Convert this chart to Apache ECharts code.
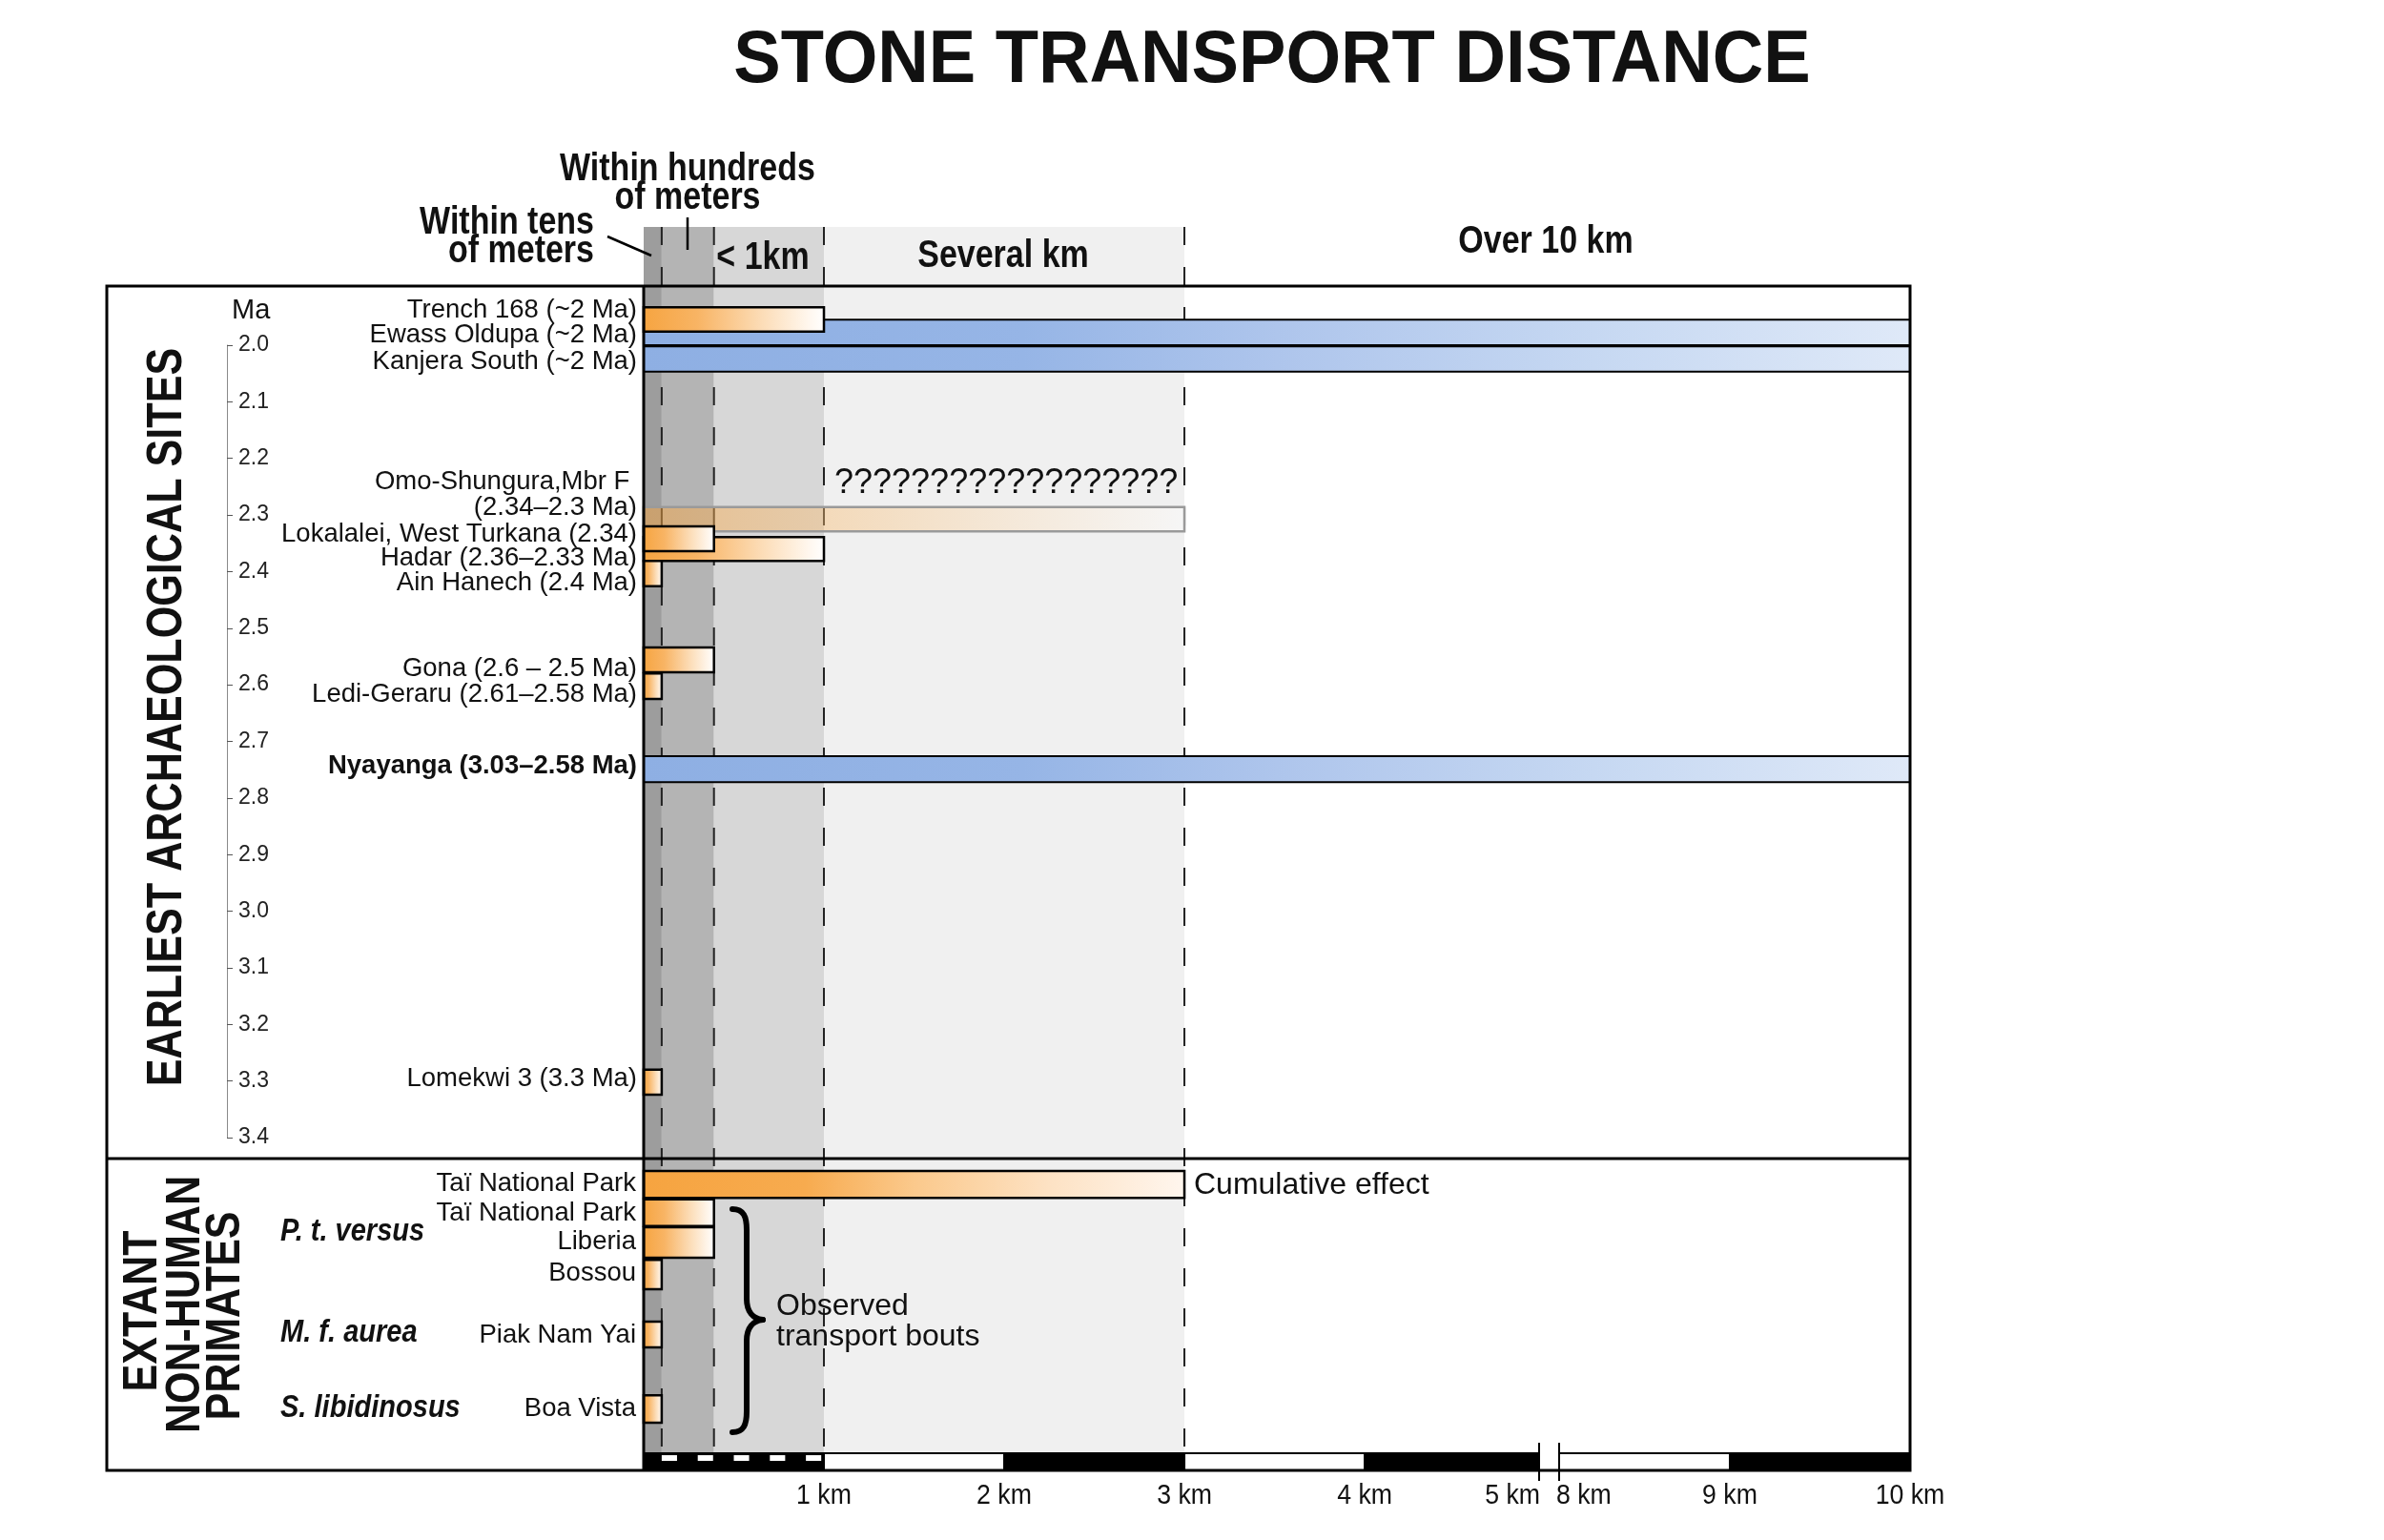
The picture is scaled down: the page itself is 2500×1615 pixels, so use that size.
<!DOCTYPE html>
<html lang="en">
<head>
<meta charset="UTF-8">
<title>Stone transport distance</title>
<script src="https://cdn.jsdelivr.net/npm/echarts@6.0.0/dist/echarts.min.js"></script>
<style>
	html,body{margin:0;padding:0;background:#fff;}
	#chart{width:2500px;height:1615px;}
</style>
</head>
<body>
<div id="chart"></div>
<script>
	// ---- values ----
	// distance zones (km)
	var bandStartKm = [0, 0.1, 0.39, 1];
	var bandEndKm   = [0.1, 0.39, 1, 3];
	var dashKm      = [0.1, 0.39, 1, 3];

	// earliest archaeological sites (drawn in this order, later ones on top)
	var siteNames = [
		'Ewass Oldupa (~2 Ma)', 'Kanjera South (~2 Ma)', 'Trench 168 (~2 Ma)',
		'Omo-Shungura,Mbr F \n(2.34\u20132.3 Ma)', 'Hadar (2.36\u20132.33 Ma)', 'Lokalalei, West Turkana (2.34)',
		'Ain Hanech (2.4 Ma)', 'Gona (2.6 \u2013 2.5 Ma)', 'Ledi-Geraru (2.61\u20132.58 Ma)',
		'Nyayanga (3.03\u20132.58 Ma)', 'Lomekwi 3 (3.3 Ma)'
	];
	var siteBarTopMa    = [1.955, 2.002, 1.933, 2.286, 2.339, 2.320, 2.381, 2.534, 2.580, 2.726, 3.280];
	var siteBarBottomMa = [2.000, 2.047, 1.976, 2.329, 2.381, 2.364, 2.426, 2.578, 2.625, 2.772, 3.324];
	var siteLabelMa     = [1.983, 2.029, 1.938, 2.264, 2.376, 2.334, 2.421, 2.571, 2.618, 2.743, 3.297];
	var siteDistanceKm  = [10, 10, 1, 3, 1, 0.39, 0.1, 0.39, 0.1, 10, 0.1];
	var siteEvidence    = ['far', 'far', 'near', 'uncertain', 'near', 'near', 'near', 'near', 'near', 'far', 'near'];

	// extant non-human primates (rows counted from the divider)
	var primateNames = ['Ta\u00ef National Park', 'Ta\u00ef National Park', 'Liberia', 'Bossou', 'Piak Nam Yai', 'Boa Vista'];
	var primateRowTop    = [0.42, 1.38, 2.33, 3.43, 5.53, 8.02];
	var primateRowBottom = [1.33, 2.29, 3.36, 4.43, 6.40, 8.95];
	var primateLabelRow  = [0.87, 1.87, 2.84, 3.88, 5.98, 8.47];
	var primateDistanceKm = [3, 0.39, 0.39, 0.1, 0.1, 0.1];
	var primateEvidence  = ['cumulative', 'near', 'near', 'near', 'near', 'near'];
	var speciesNames = ['P. t. versus', 'M. f. aurea', 'S. libidinosus'];
	var speciesRow   = [2.49, 5.91, 8.47];

	// scale bar
	var kmTicks = [1, 2, 3, 4, 5, 8, 9, 10];
	var scaleWhiteFromKm = [1, 3, 8];
	var scaleWhiteToKm   = [2, 4, 9];
	var scaleDashKm = [0.1, 0.3, 0.5, 0.7, 0.9];

	// the distance axis runs 0-5 km and 8-10 km on one scale with a cut between
	var CUT_FROM_KM = 5, CUT_SHIFT = 2.974;
	function kmAxis(km) { return km <= CUT_FROM_KM ? km : km - CUT_SHIFT; }
	var X_MAX = kmAxis(10);
	var CUT_U = [4.968, 5.079];
	var ROW_MAX = 10.6, SCALE_TOP_ROW = 9.955;

	var FF = '"Liberation Sans", Arial, Helvetica, sans-serif';
	var bandColors = ['#9d9d9d', '#b4b4b4', '#d7d7d7', '#f0f0f0'];

	function fillFor(kind) {
		if (kind === 'far') {
			return new echarts.graphic.LinearGradient(0, 0, 1, 0, [
				{offset: 0, color: '#8eafe3'}, {offset: 0.3, color: '#96b5e6'},
				{offset: 0.5, color: '#aec5ec'}, {offset: 0.75, color: '#c6d8f2'},
				{offset: 1, color: '#dfe9f8'}
			]);
		}
		if (kind === 'uncertain') {
			return new echarts.graphic.LinearGradient(0, 0, 1, 0, [
				{offset: 0, color: 'rgba(246,164,64,0.5)'}, {offset: 0.45, color: 'rgba(249,196,130,0.4)'},
				{offset: 1, color: 'rgba(255,255,255,0.4)'}
			]);
		}
		if (kind === 'cumulative') {
			return new echarts.graphic.LinearGradient(0, 0, 1, 0, [
				{offset: 0, color: '#f6a440'}, {offset: 0.3, color: '#f7ab4f'},
				{offset: 0.5, color: '#fbc98c'}, {offset: 0.75, color: '#fde2c4'},
				{offset: 1, color: '#fff6ee'}
			]);
		}
		return new echarts.graphic.LinearGradient(0, 0, 1, 0, [
			{offset: 0, color: '#f6a440'}, {offset: 0.3, color: '#f8b464'},
			{offset: 0.65, color: '#fcdcb6'}, {offset: 0.92, color: '#fff8f0'},
			{offset: 1, color: '#ffffff'}
		]);
	}

	function barItem(kinds) {
		return function (params, api) {
			var p0 = api.coord([api.value(0), api.value(2)]);
			var p1 = api.coord([api.value(1), api.value(3)]);
			var kind = kinds[params.dataIndex];
			return {
				type: 'rect',
				shape: {x: p0[0], y: p0[1], width: p1[0] - p0[0], height: p1[1] - p0[1]},
				style: {
					fill: fillFor(kind),
					stroke: kind === 'uncertain' ? '#9a9a9a' : '#000',
					lineWidth: kind === 'far' ? 2 : 2.5
				}
			};
		};
	}

	function txt(x, y, text, font, align, extra) {
		var el = {
			type: 'text', x: x, y: y, z: 100,
			style: {text: text, font: font, fill: '#111', textAlign: align, align: align,
				textVerticalAlign: 'middle', verticalAlign: 'middle'}
		};
		for (var k in (extra || {})) el[k] = extra[k];
		return el;
	}
	function seg(x1, y1, x2, y2, w) {
		return {type: 'line', z: 100, shape: {x1: x1, y1: y1, x2: x2, y2: y2}, style: {stroke: '#000', lineWidth: w}};
	}
	function curve(x1, y1, c1x, c1y, c2x, c2y, x2, y2) {
		return {type: 'bezierCurve', z: 100,
			shape: {x1: x1, y1: y1, cpx1: c1x, cpy1: c1y, cpx2: c2x, cpy2: c2y, x2: x2, y2: y2},
			style: {stroke: '#000', lineWidth: 6, fill: null, lineCap: 'round'}};
	}

	var myChart = echarts.init(document.getElementById('chart'));

	var graphics = [
		txt(1334, 64, 'STONE TRANSPORT DISTANCE', 'bold 78px ' + FF, 'center', {scaleX: 0.95}),
		txt(721, 178, 'Within hundreds', 'bold 40px ' + FF, 'center', {scaleX: 0.85}),
		txt(721, 208, 'of meters', 'bold 40px ' + FF, 'center', {scaleX: 0.85}),
		txt(623, 234, 'Within tens', 'bold 40px ' + FF, 'right', {scaleX: 0.85}),
		txt(623, 264, 'of meters', 'bold 40px ' + FF, 'right', {scaleX: 0.85}),
		txt(800, 271, '< 1km', 'bold 40px ' + FF, 'center', {scaleX: 0.85}),
		txt(1052, 269, 'Several km', 'bold 40px ' + FF, 'center', {scaleX: 0.85}),
		txt(1621, 254, 'Over 10 km', 'bold 40px ' + FF, 'center', {scaleX: 0.85}),
		seg(637, 248, 683, 268, 2.5),
		seg(721, 228, 721, 262, 2.5),
		txt(176, 752, 'EARLIEST ARCHAEOLOGICAL SITES', 'bold 52px ' + FF, 'center', {rotation: Math.PI / 2, scaleX: 0.83}),
		txt(150, 1375, 'EXTANT', 'bold 50px ' + FF, 'center', {rotation: Math.PI / 2, scaleX: 0.86}),
		txt(195, 1368, 'NON-HUMAN', 'bold 50px ' + FF, 'center', {rotation: Math.PI / 2, scaleX: 0.86}),
		txt(237, 1380, 'PRIMATES', 'bold 50px ' + FF, 'center', {rotation: Math.PI / 2, scaleX: 0.86}),
		txt(243, 326, 'Ma', '29px ' + FF, 'left'),
		txt(875, 507, '??????????????????', '36px ' + FF, 'left'),
		txt(1252, 1243, 'Cumulative effect', '32px ' + FF, 'left'),
		txt(814, 1370, 'Observed', '32px ' + FF, 'left'),
		txt(814, 1402, 'transport bouts', '32px ' + FF, 'left'),
		curve(768, 1268, 780, 1268, 783, 1276, 783, 1290),
		{type: 'line', z: 100, shape: {x1: 783, y1: 1290, x2: 783, y2: 1362}, style: {stroke: '#000', lineWidth: 6}},
		curve(783, 1362, 783, 1376, 790, 1383, 800, 1384),
		curve(800, 1384, 790, 1385, 783, 1392, 783, 1406),
		{type: 'line', z: 100, shape: {x1: 783, y1: 1406, x2: 783, y2: 1480}, style: {stroke: '#000', lineWidth: 6}},
		curve(783, 1480, 783, 1494, 780, 1502, 768, 1502),
		{type: 'rect', z: 100, shape: {x: 112, y: 300, width: 1891, height: 1242}, style: {fill: null, stroke: '#000', lineWidth: 3}},
		seg(112, 1215, 2003, 1215, 3),
		seg(675, 300, 675, 1543, 3)
	];

	var option = {
		backgroundColor: '#fff',
		animation: false,
		grid: [
			{left: 675, top: 238, width: 1328, height: 1285},
			{left: 675, top: 300, width: 1328, height: 915},
			{left: 675, top: 1215, width: 1328, height: 328},
			{left: 238, top: 362, width: 10, height: 831}
		],
		xAxis: [
			{gridIndex: 0, type: 'value', min: 0, max: X_MAX, show: false},
			{gridIndex: 1, type: 'value', min: 0, max: X_MAX, show: false},
			{gridIndex: 2, type: 'value', min: 0, max: X_MAX, show: false},
			{gridIndex: 3, type: 'value', min: 0, max: 1, show: false}
		],
		yAxis: [
			{gridIndex: 0, type: 'value', min: 0, max: 1, show: false},
			{gridIndex: 1, type: 'value', min: 1.8956, max: 3.437, inverse: true, show: false},
			{gridIndex: 2, type: 'value', min: 0, max: ROW_MAX, inverse: true, show: false},
			{
				gridIndex: 3, type: 'value', min: 2.0, max: 3.4, interval: 0.1, inverse: true, position: 'left',
				axisLine: {show: true, lineStyle: {color: '#8a8a8a', width: 1}},
				axisTick: {show: true, inside: true, length: 6, lineStyle: {color: '#555'}},
				axisLabel: {inside: true, margin: 12, fontSize: 23, fontFamily: FF, color: '#222',
					showMinLabel: true, showMaxLabel: true,
					formatter: function (v) { return v.toFixed(1); }},
				splitLine: {show: false}
			}
		],
		series: [
			{
				// distance zones
				type: 'custom', xAxisIndex: 0, yAxisIndex: 0, z: 1, silent: true, clip: false,
				data: bandStartKm.map(function (s, i) { return [kmAxis(s), kmAxis(bandEndKm[i])]; }),
				renderItem: function (params, api) {
					var p0 = api.coord([api.value(0), 1]);
					var p1 = api.coord([api.value(1), 0]);
					return {type: 'rect', shape: {x: p0[0], y: p0[1], width: p1[0] - p0[0], height: p1[1] - p0[1]},
						style: {fill: bandColors[params.dataIndex]}};
				}
			},
			{
				// zone boundaries
				type: 'custom', xAxisIndex: 0, yAxisIndex: 0, z: 2, silent: true, clip: false,
				data: dashKm.map(function (k) { return [kmAxis(k)]; }),
				renderItem: function (params, api) {
					var p0 = api.coord([api.value(0), 1]);
					var p1 = api.coord([api.value(0), 0]);
					return {type: 'line', shape: {x1: p0[0], y1: p0[1], x2: p1[0], y2: p1[1]},
						style: {stroke: '#222', lineWidth: 2, lineDash: [19, 23]}};
				}
			},
			{
				type: 'custom', xAxisIndex: 1, yAxisIndex: 1, z: 3, silent: true, clip: false,
				data: siteNames.map(function (n, i) { return [0, kmAxis(siteDistanceKm[i]), siteBarTopMa[i], siteBarBottomMa[i]]; }),
				renderItem: barItem(siteEvidence)
			},
			{
				type: 'custom', xAxisIndex: 1, yAxisIndex: 1, z: 4, silent: true, clip: false,
				data: siteLabelMa.map(function (m) { return [0, m]; }),
				renderItem: function (params, api) {
					var p = api.coord([0, api.value(1)]);
					var name = siteNames[params.dataIndex];
					var bold = name.indexOf('Nyayanga') === 0;
					return {type: 'text', x: p[0] - 7, y: p[1],
						style: {text: name, font: (bold ? 'bold ' : '') + '27.5px ' + FF, fill: '#111', lineHeight: 27,
							textAlign: 'right', align: 'right', textVerticalAlign: 'middle', verticalAlign: 'middle'}};
				}
			},
			{
				type: 'custom', xAxisIndex: 2, yAxisIndex: 2, z: 3, silent: true, clip: false,
				data: primateNames.map(function (n, i) { return [0, kmAxis(primateDistanceKm[i]), primateRowTop[i], primateRowBottom[i]]; }),
				renderItem: barItem(primateEvidence)
			},
			{
				type: 'custom', xAxisIndex: 2, yAxisIndex: 2, z: 4, silent: true, clip: false,
				data: primateLabelRow.map(function (r) { return [0, r]; }),
				renderItem: function (params, api) {
					var p = api.coord([0, api.value(1)]);
					return {type: 'text', x: p[0] - 8, y: p[1],
						style: {text: primateNames[params.dataIndex], font: '27.5px ' + FF, fill: '#111',
							textAlign: 'right', align: 'right', textVerticalAlign: 'middle', verticalAlign: 'middle'}};
				}
			},
			{
				type: 'custom', xAxisIndex: 2, yAxisIndex: 2, z: 4, silent: true, clip: false,
				data: speciesRow.map(function (r) { return [0, r]; }),
				renderItem: function (params, api) {
					var p = api.coord([0, api.value(1)]);
					return {type: 'text', x: 294, y: p[1], scaleX: 0.88,
						style: {text: speciesNames[params.dataIndex], font: 'italic bold 33px ' + FF, fill: '#111',
							textAlign: 'left', align: 'left', textVerticalAlign: 'middle', verticalAlign: 'middle'}};
				}
			},
			{
				// scale bar
				type: 'custom', xAxisIndex: 2, yAxisIndex: 2, z: 5, silent: true, clip: false,
				data: [[0]],
				renderItem: function (params, api) {
					var top = api.coord([0, SCALE_TOP_ROW])[1];
					var bottom = api.coord([0, ROW_MAX])[1];
					var x0 = api.coord([0, 0])[0], x1 = api.coord([kmAxis(10), 0])[0];
					var kids = [{type: 'rect', shape: {x: x0, y: top, width: x1 - x0, height: bottom - top}, style: {fill: '#000'}}];
					scaleWhiteFromKm.forEach(function (k, i) {
						var a = api.coord([kmAxis(k), 0])[0], b = api.coord([kmAxis(scaleWhiteToKm[i]), 0])[0];
						kids.push({type: 'rect', shape: {x: a + 1, y: top + 2, width: b - a - 2, height: bottom - top - 4}, style: {fill: '#fff'}});
					});
					scaleDashKm.forEach(function (k) {
						var a = api.coord([kmAxis(k), 0])[0], b = api.coord([kmAxis(k + 0.085), 0])[0];
						kids.push({type: 'rect', shape: {x: a, y: top + 3, width: b - a, height: 6}, style: {fill: '#fff'}});
					});
					var c0 = api.coord([CUT_U[0], 0])[0], c1 = api.coord([CUT_U[1], 0])[0];
					kids.push({type: 'rect', shape: {x: c0, y: top - 10, width: c1 - c0, height: bottom - top + 20}, style: {fill: '#fff'}});
					kids.push({type: 'line', shape: {x1: c0, y1: top - 10, x2: c0, y2: bottom + 10}, style: {stroke: '#000', lineWidth: 2}});
					kids.push({type: 'line', shape: {x1: c1, y1: top - 10, x2: c1, y2: bottom + 10}, style: {stroke: '#000', lineWidth: 2}});
					return {type: 'group', children: kids};
				}
			},
			{
				// km labels
				type: 'custom', xAxisIndex: 2, yAxisIndex: 2, z: 5, silent: true, clip: false,
				data: kmTicks.map(function (k) { return [kmAxis(k)]; }),
				renderItem: function (params, api) {
					var k = kmTicks[params.dataIndex];
					var p = api.coord([api.value(0), ROW_MAX]);
					var align = k === 5 ? 'right' : (k === 8 ? 'left' : 'center');
					var dx = k === 5 ? -5 : (k === 8 ? 7 : 0);
					return {type: 'text', x: p[0] + dx, y: p[1] + 26, scaleX: 0.92,
						style: {text: k + ' km', font: '29px ' + FF, fill: '#111',
							textAlign: align, align: align, textVerticalAlign: 'middle', verticalAlign: 'middle'}};
				}
			}
		],
		graphic: {elements: graphics}
	};

	myChart.setOption(option);
</script>
</body>
</html>
